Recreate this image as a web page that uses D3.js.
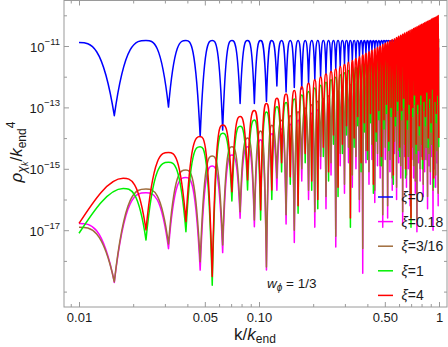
<!DOCTYPE html>
<html><head><meta charset="utf-8">
<script src="https://cdn.jsdelivr.net/npm/d3@7"></script>
<style>
body{margin:0;background:#fff}
svg{display:block}
text{font-family:"Liberation Sans",Arial,sans-serif;fill:#1a1a1a}
</style>
</head><body>
<svg id="c" width="448" height="347"></svg>
<script>
// ---- data (k/k_end nodes: successive troughs / crests of the oscillation) ----
const kNodes = [0.01, 0.01571, 0.0176, 0.02356, 0.03142, 0.03927, 0.04712, 0.05498, 0.06283, 0.07069, 0.07854,
 0.08639, 0.09425, 0.1021, 0.1100, 0.1178, 0.1257, 0.1335, 0.1414, 0.1492, 0.1571,
 0.1649, 0.1728, 0.1806, 0.1885, 0.1963, 0.2042, 0.2121, 0.2199, 0.2278, 0.2356,
 0.2435, 0.2513, 0.2592, 0.2670, 0.2749, 0.2827, 0.2906, 0.2985, 0.3063, 0.3142,
 0.3220, 0.3299, 0.3377, 0.3456, 0.3534, 0.3613, 0.3691, 0.3770, 0.3848, 0.3927,
 0.4006, 0.4084, 0.4163, 0.4241, 0.4320, 0.4398, 0.4477, 0.4555, 0.4634, 0.4712,
 0.4791, 0.4869, 0.4948, 0.5027, 0.5105, 0.5184, 0.5262, 0.5341, 0.5419, 0.5498,
 0.5576, 0.5655, 0.5733, 0.5812, 0.5890, 0.5969, 0.6048, 0.6126, 0.6205, 0.6283,
 0.6362, 0.6440, 0.6519, 0.6597, 0.6676, 0.6754, 0.6833, 0.6912, 0.6990, 0.7069,
 0.7147, 0.7226, 0.7304, 0.7383, 0.7461, 0.7540, 0.7618, 0.7697, 0.7775, 0.7854,
 0.7933, 0.8011, 0.8090, 0.8168, 0.8247, 0.8325, 0.8404, 0.8482, 0.8561, 0.8639,
 0.8718, 0.8796, 0.8875, 0.8954, 0.9032, 0.9111, 0.9189, 0.9268, 0.9346, 0.9425,
 0.9503, 0.9582, 0.9660, 0.9739, 0.9817, 0.9896, 0.9975];

// log10(rho_chi_k / k_end^4) at each node (null = node not used by that series)
const log10Xi0 = [-10.89, -13.27, null,
 -10.82, -12.99, -10.82, -13.95, -10.82, -13.74, -10.82, -12.87,
 -10.82, -12.87, -10.82, -12.81, -10.82, -12.30, -10.82, -12.50, -10.82, -12.35,
 -10.82, -12.40, -10.82, -12.21, -10.82, -12.10, -10.82, -12.01, -10.82, -11.91,
 -10.82, -11.83, -10.82, -11.75, -10.82, -11.67, -10.82, -11.60, -10.82, -11.53,
 -10.82, -11.47, -10.82, -11.41, -10.82, -11.35, -10.82, -11.29, -10.82, -11.24,
 -10.82, -11.19, -10.82, -11.14, -10.82, -11.09, -10.82, -11.04, -10.82, -11.00,
 -10.82, -10.95, -10.82, -10.91, -10.82, -10.87, -10.82, -10.90, -10.82, -10.90,
 -10.82, -10.90, -10.82, -10.90, -10.82, -10.90, -10.82, -10.90, -10.82, -10.90,
 -10.82, -10.90, -10.82, -10.90, -10.82, -10.90, -10.82, -10.90, -10.82, -10.90,
 -10.82, -10.90, -10.82, -10.90, -10.82, -10.90, -10.82, -10.90, -10.82, -10.90,
 -10.82, -10.90, -10.82, -10.90, -10.82, -10.90, -10.82, -10.90, -10.82, -10.90,
 -10.82, -10.90, -10.82, -10.90, -10.82, -10.90, -10.82, -10.90, -10.82, -10.90,
 -10.82, -10.90, -10.82, -10.90, -10.82, -10.90, -10.82];

const log10Xi018 = [-16.78, -18.70, null,
 -15.78, -17.60, -15.28, -18.30, -14.91, -17.73, -14.55, -16.61,
 -14.28, -16.89, -14.05, -18.30, -13.86, -15.70, -13.70, -16.80, -13.55, -17.40,
 -13.42, -15.40, -13.30, -16.00, -13.19, -16.90, -13.08, -15.00, -12.99, -16.30,
 -12.90, -15.20, -12.82, -17.55, -12.74, -14.90, -12.67, -15.80, -12.60, -14.80,
 -12.53, -15.60, -12.47, -15.00, -12.41, -16.40, -12.35, -18.40, -12.30, -14.80,
 -12.24, -15.50, -12.19, -14.70, -12.14, -16.10, -12.09, -14.90, -12.05, -15.30,
 -12.00, -16.90, -11.96, -14.70, -11.92, -16.60, -11.88, -15.10, -11.84, -15.70,
 -11.80, -14.50, -11.77, -16.00, -11.73, -14.80, -11.70, -15.30, -11.66, -16.80,
 -11.63, -14.60, -11.60, -15.60, -11.57, -15.00, -11.53, -16.20, -11.50, -14.70,
 -11.48, -15.30, -11.45, -15.80, -11.42, -17.05, -11.39, -14.80, -11.36, -15.40,
 -11.34, -14.60, -11.31, -15.90, -11.29, -15.10, -11.26, -14.70, -11.24, -16.30,
 -11.21, -14.90, -11.19, -15.50, -11.16, -14.60, -11.14, -17.00, -11.12, -15.00,
 -11.10, -15.60, -11.08, -14.80, -11.05, -16.20, -11.03];

const log10Xi316 = [-16.90, -18.68, null,
 -15.66, -17.45, -15.04, -18.03, -14.58, -17.48, -14.28, -16.40,
 -14.00, -16.67, -13.77, -18.20, -13.58, -15.30, -13.42, -16.50, -13.27, -17.00,
 -13.14, -15.00, -13.02, -15.70, -12.91, -16.40, -12.80, -14.60, -12.71, -15.90,
 -12.62, -14.80, -12.54, -17.20, -12.46, -14.50, -12.39, -15.50, -12.32, -14.30,
 -12.25, -15.20, -12.19, -14.60, -12.13, -16.00, -12.07, -17.60, -12.02, -14.40,
 -11.96, -15.10, -11.91, -14.20, -11.86, -15.70, -11.81, -14.50, -11.77, -14.90,
 -11.72, -16.50, -11.68, -14.30, -11.64, -16.20, -11.60, -14.70, -11.56, -15.30,
 -11.52, -14.10, -11.49, -15.60, -11.45, -14.40, -11.42, -14.90, -11.38, -16.40,
 -11.35, -14.20, -11.32, -15.20, -11.29, -14.60, -11.25, -15.80, -11.22, -14.30,
 -11.20, -14.90, -11.17, -15.40, -11.14, -16.70, -11.11, -14.40, -11.08, -15.00,
 -11.06, -14.20, -11.03, -15.50, -11.01, -14.70, -10.98, -14.30, -10.96, -15.90,
 -10.93, -14.50, -10.91, -15.10, -10.88, -14.20, -10.86, -15.70, -10.84, -14.60,
 -10.82, -15.20, -10.80, -14.40, -10.77, -15.80, -10.75];

const log10Xi1 = [-17.10, null, -15.64,
 -17.32, -14.79, -17.05, -14.28, -18.79, -13.84, -16.05, -13.61,
 -15.69, -13.41, -16.67, -13.15, -16.00, -12.98, -15.10, -12.84, -15.50, -12.73,
 -16.45, -12.60, -14.80, -12.48, -15.70, -12.37, -16.30, -12.28, -14.60, -12.18,
 -15.40, -12.10, -14.20, -12.02, -15.90, -11.94, -14.50, -11.87, -13.90, -11.80,
 -16.90, -11.74, -14.30, -11.68, -13.60, -11.62, -15.10, -11.56, -13.80, -11.51,
 -14.70, -11.46, -13.50, -11.41, -15.80, -11.36, -14.10, -11.31, -13.40, -11.27,
 -14.90, -11.22, -13.70, -11.18, -13.20, -11.14, -14.40, -11.10, -13.30, -11.06,
 -15.50, -11.03, -13.60, -10.99, -13.10, -10.95, -14.60, -10.92, -13.40, -10.89,
 -13.00, -10.85, -15.30, -10.82, -13.70, -10.79, -13.20, -10.76, -16.90, -10.73,
 -13.30, -10.70, -12.90, -10.67, -14.50, -10.64, -13.20, -10.62, -13.90, -10.59,
 -12.90, -10.56, -15.00, -10.54, -13.10, -10.51, -13.60, -10.49, -12.80, -10.46,
 -14.30, -10.44, -13.00, -10.42, -13.80, -10.39, -12.70, -10.37, -15.60, -10.35,
 -13.10, -10.33, -13.50, -10.31, -12.90, -10.28, -14.30];

const log10Xi4 = [-16.78, null, -15.31,
 -16.99, -14.47, -16.72, -13.95, -18.51, -13.57, -15.75, -13.30,
 -15.36, -13.10, -16.34, -12.87, -15.69, -12.70, -14.80, -12.56, -15.26, -12.45,
 -16.20, -12.33, -14.50, -12.21, -15.40, -12.10, -16.00, -12.01, -14.30, -11.91,
 -15.10, -11.83, -13.90, -11.75, -15.60, -11.67, -14.20, -11.60, -13.60, -11.53,
 -16.60, -11.47, -14.00, -11.41, -13.30, -11.35, -14.80, -11.29, -13.50, -11.24,
 -14.40, -11.19, -13.20, -11.14, -15.50, -11.09, -13.80, -11.04, -13.10, -11.00,
 -14.60, -10.95, -13.40, -10.91, -12.90, -10.87, -14.10, -10.83, -13.00, -10.79,
 -15.20, -10.76, -13.30, -10.72, -12.80, -10.68, -14.30, -10.65, -13.10, -10.62,
 -12.70, -10.58, -15.00, -10.55, -13.40, -10.52, -12.90, -10.49, -16.60, -10.46,
 -13.00, -10.43, -12.60, -10.40, -14.20, -10.37, -12.90, -10.35, -13.60, -10.32,
 -12.60, -10.29, -14.70, -10.27, -12.80, -10.24, -13.30, -10.22, -12.50, -10.19,
 -14.00, -10.17, -12.70, -10.15, -13.50, -10.12, -12.40, -10.10, -15.30, -10.08,
 -12.80, -10.06, -13.20, -10.04, -12.60, -10.01, -14.00];

const seriesNames = ["0", "0.18", "3/16", "1", "4"];
const seriesColors = ["#0000ff", "#ff00ff", "#a06c3c", "#00f000", "#ff0000"];
const seriesValues = [log10Xi0, log10Xi018, log10Xi316, log10Xi1, log10Xi4];

const xMajor = [0.01, 0.05, 0.1, 0.5, 1];
const xMajorLabels = ["0.01", "0.05", "0.10", "0.50", "1"];
const xMinor = [0.009, 0.02, 0.03, 0.04, 0.06, 0.07, 0.08, 0.09, 0.2, 0.3, 0.4, 0.6, 0.7, 0.8, 0.9];
const yMajor = [1e-11, 1e-13, 1e-15, 1e-17];
const yMajorExp = ["\u221211", "\u221213", "\u221215", "\u221217"];
const yMinor = [1e-10, 1e-12, 1e-14, 1e-16, 1e-18, 1e-19];

// ---- layout ----
const frame = {l: 64, r: 447, t: 0.5, b: 307};
const x = d3.scaleLog().domain([0.01, 1]).range([79, 439]);
const y = d3.scaleLog().domain([1e-11, 1e-17]).range([46, 230.2]);

const svg = d3.select("#c");

// custom curve: rounded crests, cusp-like troughs (as in log plots of |sin|^2)
function ArchCurve(ctx){ this._c = ctx; }
ArchCurve.prototype = {
  areaStart(){}, areaEnd(){},
  lineStart(){ this._x = []; this._y = []; },
  point(px, py){ this._x.push(+px); this._y.push(+py); },
  lineEnd(){
    const X = this._x, Y = this._y, n = X.length, c = this._c;
    if (!n) return;
    c.moveTo(X[0], Y[0]);
    if (n < 2) return;
    const sec = i => (Y[i+1] - Y[i]) / (X[i+1] - X[i]);
    const Lt = new Array(n), Rt = new Array(n);
    for (let i = 0; i < n; i++) {
      const hasL = i > 0, hasR = i < n - 1;
      const sl = hasL ? sec(i-1) : null, sr = hasR ? sec(i) : null;
      const crest = (!hasL || Y[i-1] >= Y[i]) && (!hasR || Y[i+1] >= Y[i]);
      const trough = (!hasL || Y[i-1] < Y[i]) && (!hasR || Y[i+1] < Y[i]);
      if (crest) { Lt[i] = 0; Rt[i] = 0; }
      else if (trough) {
        const f = (hasL && hasR) ? 3 : 1.5;
        Lt[i] = hasL ? f * sl : 0; Rt[i] = hasR ? f * sr : 0;
      } else {
        const m = (sl * sr <= 0) ? 0 : 2 / (1/sl + 1/sr);
        Lt[i] = m; Rt[i] = m;
      }
    }
    for (let i = 0; i < n - 1; i++) {
      const dx = X[i+1] - X[i];
      c.bezierCurveTo(X[i] + dx/3, Y[i] + Rt[i]*dx/3,
                      X[i+1] - dx/3, Y[i+1] - Lt[i+1]*dx/3,
                      X[i+1], Y[i+1]);
    }
  }
};
const archCurve = ctx => new ArchCurve(ctx);

svg.append("defs").append("clipPath").attr("id", "clip")
  .append("rect").attr("x", frame.l).attr("y", 0)
  .attr("width", frame.r - frame.l).attr("height", frame.b);

const line = d3.line()
  .x(d => x(d.k))
  .y(d => y(Math.pow(10, d.v)))
  .curve(archCurve);

const gLines = svg.append("g").attr("clip-path", "url(#clip)");
seriesValues.forEach((vals, si) => {
  const data = kNodes.map((k, i) => ({k, v: vals[i]})).filter(d => d.v !== null);
  gLines.append("path")
    .attr("d", line(data))
    .attr("fill", "none")
    .attr("stroke", seriesColors[si])
    .attr("stroke-width", 1.5)
    .attr("stroke-linejoin", "round");
});

// ---- frame and ticks ----
const tickColor = "#9a9a9a";
svg.append("rect").attr("x", frame.l).attr("y", frame.t)
  .attr("width", frame.r - frame.l).attr("height", frame.b - frame.t)
  .attr("fill", "none").attr("stroke", tickColor).attr("stroke-width", 1);

function styleAxis(g){
  g.select(".domain").remove();
  g.selectAll(".tick line").attr("stroke", tickColor);
}
// bottom
svg.append("g").attr("transform", `translate(0,${frame.b})`)
  .call(d3.axisBottom(x).tickValues(xMajor).tickSize(-5).tickPadding(6)
    .tickFormat((d, i) => xMajorLabels[i]))
  .call(styleAxis)
  .call(g => g.selectAll("text").attr("font-size", 13)
    .attr("font-family", "Liberation Sans, Arial, sans-serif").attr("fill", "#1a1a1a"));
svg.append("g").attr("transform", `translate(0,${frame.b})`)
  .call(d3.axisBottom(x).tickValues(xMinor).tickSize(-3).tickFormat(""))
  .call(styleAxis);
// top
svg.append("g").attr("transform", `translate(0,${frame.t})`)
  .call(d3.axisTop(x).tickValues(xMajor).tickSize(-5).tickFormat(""))
  .call(styleAxis);
svg.append("g").attr("transform", `translate(0,${frame.t})`)
  .call(d3.axisTop(x).tickValues(xMinor).tickSize(-3).tickFormat(""))
  .call(styleAxis);
// left
svg.append("g").attr("transform", `translate(${frame.l},0)`)
  .call(d3.axisLeft(y).tickValues(yMajor).tickSize(-5).tickFormat(""))
  .call(styleAxis);
svg.append("g").attr("transform", `translate(${frame.l},0)`)
  .call(d3.axisLeft(y).tickValues(yMinor).tickSize(-3).tickFormat(""))
  .call(styleAxis);
// right
svg.append("g").attr("transform", `translate(${frame.r},0)`)
  .call(d3.axisRight(y).tickValues(yMajor).tickSize(-5).tickFormat(""))
  .call(styleAxis);
svg.append("g").attr("transform", `translate(${frame.r},0)`)
  .call(d3.axisRight(y).tickValues(yMinor).tickSize(-3).tickFormat(""))
  .call(styleAxis);

// y tick labels 10^n
yMajor.forEach((v, i) => {
  const t = svg.append("text").attr("x", 60).attr("y", y(v) + 5.5)
    .attr("text-anchor", "end").attr("font-size", 13);
  t.append("tspan").text("10");
  t.append("tspan").attr("font-size", 9.5).attr("dy", -6.5).text(yMajorExp[i]);
});

// axis titles
const xt = svg.append("text").attr("x", 255).attr("y", 339.5)
  .attr("text-anchor", "middle").attr("font-size", 17);
xt.append("tspan").text("k/");
xt.append("tspan").attr("font-style", "italic").text("k");
xt.append("tspan").attr("font-size", 12).attr("dy", 3.5).text("end");

const yt = svg.append("text").attr("transform", "translate(22,152) rotate(-90)")
  .attr("text-anchor", "middle").attr("font-size", 17);
yt.append("tspan").attr("font-style", "italic").text("\u03c1");
yt.append("tspan").attr("font-style", "italic").attr("font-size", 12).attr("dy", 4).text("\u03c7");
yt.append("tspan").attr("font-style", "italic").attr("font-size", 9).attr("dy", 2).text("k");
yt.append("tspan").attr("dy", -6).text("/");
yt.append("tspan").attr("font-style", "italic").text("k");
yt.append("tspan").attr("font-size", 12).attr("dy", 4).text("end");
yt.append("tspan").attr("font-size", 12).attr("dy", -11).text("4");

// annotation
const ann = svg.append("text").attr("x", 267).attr("y", 288).attr("font-size", 13.5);
ann.append("tspan").attr("font-style", "italic").text("w");
ann.append("tspan").attr("font-style", "italic").attr("font-size", 10).attr("dy", 3).text("\u03d5");
ann.append("tspan").attr("dy", -3).text(" = 1/3");

// legend
const leg = svg.append("g");
seriesNames.forEach((nm, i) => {
  const yy = 197 + i * 24.6;
  leg.append("line").attr("x1", 378).attr("x2", 393).attr("y1", yy).attr("y2", yy)
    .attr("stroke", seriesColors[i]).attr("stroke-width", 1.5);
  const t = leg.append("text").attr("x", 401.5).attr("y", yy + 5).attr("font-size", 14);
  t.append("tspan").attr("font-style", "italic").text("\u03be");
  t.append("tspan").text("=" + nm);
});
</script>
</body></html>
